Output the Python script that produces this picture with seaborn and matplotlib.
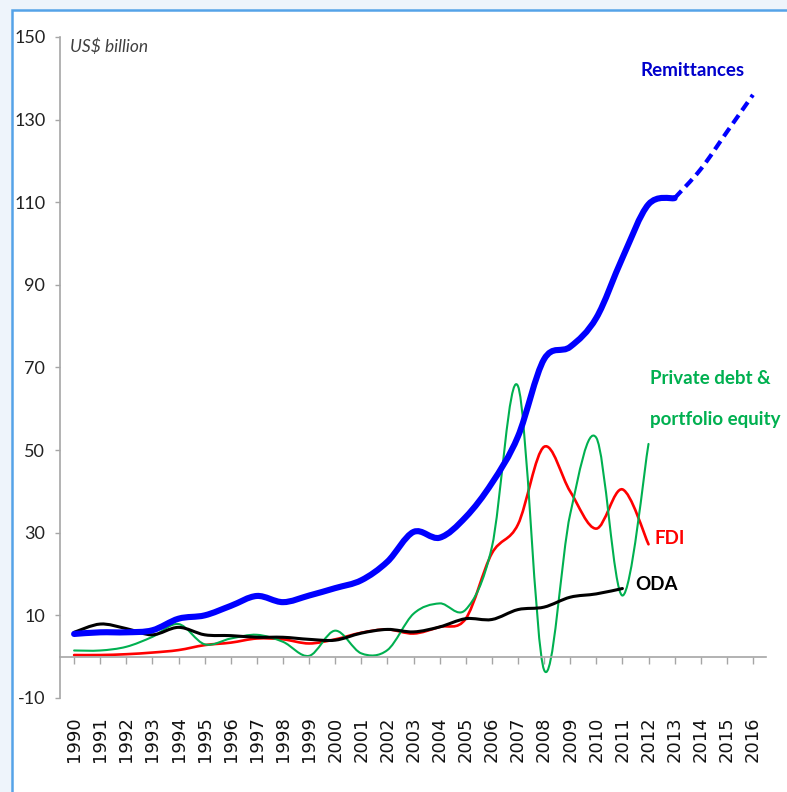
import numpy as np
import matplotlib
matplotlib.use("Agg")
import matplotlib.pyplot as plt
import seaborn as sns
from matplotlib.path import Path
from matplotlib.patches import PathPatch, Rectangle

# ---------------- data (US$ billion) ----------------
years = list(range(1990, 2017))
year_labels = [str(y) for y in years]

remit_years = list(range(1990, 2014))
remittances = [5.5, 5.9, 5.9, 6.4, 9.2, 10.0, 12.3, 14.7, 13.2, 14.8, 16.6, 18.5,
               23.0, 30.2, 28.8, 33.8, 42.0, 53.3, 72.0, 75.0, 82.0, 96.5, 109.5, 111.0]
proj_years = [2013, 2014, 2015, 2016]
remit_proj = [111.0, 118.0, 127.0, 136.0]

fdi_years = list(range(1990, 2013))
fdi = [0.4, 0.4, 0.6, 1.0, 1.6, 2.8, 3.4, 4.4, 4.2, 3.2, 4.2, 5.8,
       6.6, 5.6, 7.2, 9.2, 25.0, 32.0, 50.8, 40.0, 31.0, 40.5, 27.2]

pde_years = list(range(1990, 2013))
private_debt_equity = [1.5, 1.5, 2.4, 4.8, 7.9, 3.0, 4.4, 5.3, 3.6, 0.2, 6.3, 0.8,
                       1.6, 10.4, 12.9, 11.4, 26.5, 65.5, -3.2, 34.5, 53.0, 14.8, 51.5]

oda_years = list(range(1990, 2012))
oda = [5.9, 7.9, 6.8, 5.3, 7.1, 5.3, 5.1, 4.7, 4.7, 4.2, 4.0, 5.7,
       6.6, 6.0, 7.2, 9.2, 9.0, 11.4, 12.0, 14.4, 15.2, 16.5]

y_ticks = list(range(-10, 151, 20))

# ---------------- styling ----------------
sns.set_theme(style="white")
plt.rcParams['font.family'] = ['Lato', 'DejaVu Sans']

W, H = 787, 792
fig = plt.figure(figsize=(W / 100, H / 100), dpi=100)
fig.patch.set_facecolor('#EEF4FB')

# white panel with blue frame (background layer)
bg = fig.add_axes([0, 0, 1, 1], zorder=-10)
bg.set_xlim(0, W)
bg.set_ylim(H, 0)
bg.axis('off')
bg.add_patch(Rectangle((12, 10), W + 50, H + 50, facecolor='white',
                       edgecolor='#55A3E8', linewidth=1.8))

ax = fig.add_axes([60 / W, 1 - 698 / H, (766 - 60) / W, (698 - 37) / H], zorder=1)
ax.patch.set_alpha(0)

series = [
    (fdi_years, fdi, '#FF0000', 1.9, '-'),
    (pde_years, private_debt_equity, '#00B050', 1.5, '-'),
    (oda_years, oda, '#000000', 2.2, '-'),
    (remit_years, remittances, '#0000FF', 4.4, '-'),
    (proj_years, remit_proj, '#0000FF', 3.0, (0, (2.4, 1.4))),
]
for xs, ys, c, lw, ls in series:
    sns.lineplot(x=xs, y=ys, color=c, linewidth=lw, ax=ax)


def smooth_path(xs, ys):
    p = np.column_stack([xs, ys]).astype(float)
    ext = np.vstack([p[0], p, p[-1]])
    verts = [p[0]]
    codes = [Path.MOVETO]
    for i in range(len(p) - 1):
        p0, p1, p2, p3 = ext[i], ext[i + 1], ext[i + 2], ext[i + 3]
        verts += [p1 + (p2 - p0) / 6.0, p2 - (p3 - p1) / 6.0, p2]
        codes += [Path.CURVE4] * 3
    return Path(verts, codes)


# render seaborn's lines as smoothed curves (like the original "smoothed line" chart)
for line, (_, _, c, lw, ls) in zip(list(ax.lines), series):
    xd, yd = line.get_xdata(), line.get_ydata()
    patch = PathPatch(smooth_path(xd, yd), facecolor='none', edgecolor=c,
                      linewidth=lw, linestyle=ls,
                      capstyle='butt' if ls != '-' else 'round', joinstyle='round')
    ax.add_patch(patch)
    line.remove()

# ---------------- axes ----------------
ax.set_xlim(1989.46, 2016.5)
ax.set_ylim(-10, 150)
ax.set_xlabel('')
ax.set_ylabel('')
for s in ['top', 'right']:
    ax.spines[s].set_visible(False)
ax.spines['bottom'].set_position(('data', 0))
for s in ['left', 'bottom']:
    ax.spines[s].set_color('#A6A6A6')
    ax.spines[s].set_linewidth(1.2)
ax.tick_params(axis='y', left=True, direction='out', length=3.6, width=1,
               color='#A6A6A6', pad=7, labelsize=13, labelcolor='#222222')
ax.tick_params(axis='x', bottom=True, direction='out', length=5, width=1,
               color='#A6A6A6', pad=38, labelrotation=90, labelsize=13,
               labelcolor='#111111')
ax.set_yticks(y_ticks)
ax.set_yticklabels([str(v) for v in y_ticks])
ax.set_xticks(years)
ax.set_xticklabels(year_labels, rotation=90, fontfamily='DejaVu Sans')
ax.grid(False)

# ---------------- annotations ----------------
def ftext(px, py, s, **kw):
    fig.text(px / W, 1 - py / H, s, **kw)

ftext(70, 47, 'US$ billion', fontsize=12.5, style='italic', color='#404040',
      ha='left', va='center')
ftext(693, 70, 'Remittances', fontsize=13.5, fontweight='bold', color='#0000CC',
      ha='center', va='center')
ftext(650, 378, 'Private debt &', fontsize=13.5, fontweight='bold', color='#00B050',
      ha='left', va='center')
ftext(650, 420, 'portfolio equity', fontsize=13.5, fontweight='bold', color='#00B050',
      ha='left', va='center')
ftext(655, 538, 'FDI', fontsize=13.5, fontweight='bold', color='#FF0000',
      ha='left', va='center')
ftext(635, 585, 'ODA', fontsize=13.5, fontweight='bold', color='#000000',
      ha='left', va='center')

fig.savefig('out.png', dpi=100, facecolor=fig.get_facecolor())
